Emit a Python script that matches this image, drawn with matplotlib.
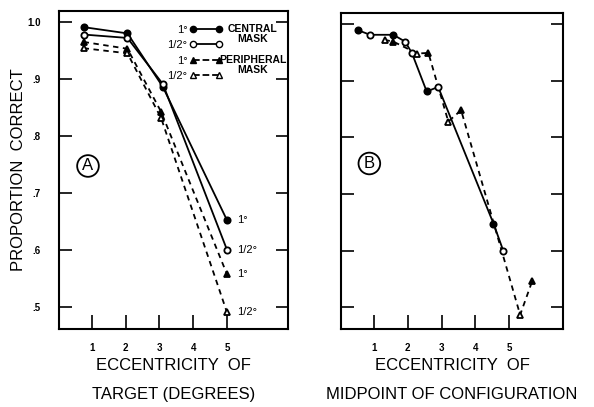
import numpy as np
import matplotlib.pyplot as plt
from matplotlib.lines import Line2D

plt.rcParams['font.family'] = ['Liberation Sans', 'DejaVu Sans']

# Panel A: proportion correct vs eccentricity of target
ecc_central = [0.75, 2.05, 3.1, 5.0]
ecc_periph = [0.75, 2.05, 3.05, 5.0]
central_1 = [0.991, 0.980, 0.886, 0.652]
central_half = [0.978, 0.972, 0.891, 0.600]
periph_1 = [0.965, 0.953, 0.842, 0.557]
periph_half = [0.954, 0.945, 0.831, 0.490]
end_labels = ['1°', '1/2°', '1°', '1/2°']

# Panel B: vs eccentricity of midpoint of configuration
b_central_x = [0.53, 0.88, 1.57, 1.92, 2.12, 2.56, 2.90, 4.54, 4.83]
b_central_y = [0.989, 0.981, 0.981, 0.969, 0.949, 0.881, 0.889, 0.648, 0.600]
b_central_filled = [True, False, True, False, False, True, False, True, False]
b_periph_x = [1.31, 1.57, 2.28, 2.61, 3.20, 3.58, 5.33, 5.69]
b_periph_y = [0.972, 0.969, 0.948, 0.949, 0.828, 0.848, 0.487, 0.547]
b_periph_filled = [False, True, False, True, False, True, False, True]

yticks = [0.5, 0.6, 0.7, 0.8, 0.9, 1.0]
ytick_labels = ['.5', '.6', '.7', '.8', '.9', '1.0']
xticks = [1, 2, 3, 4, 5]


def style_axes(ax, xlim, ylim, show_ylabels):
    ax.set_xlim(*xlim)
    ax.set_ylim(*ylim)
    ax.set_xticks(xticks)
    ax.set_xticklabels([str(t) for t in xticks], fontsize=7, fontweight='bold')
    ax.set_yticks(yticks)
    if show_ylabels:
        ax.set_yticklabels(ytick_labels, fontsize=7, fontweight='bold')
    else:
        ax.set_yticklabels([])
    ax.tick_params(axis='x', direction='in', length=10, width=1.2, pad=10)
    ax.tick_params(axis='y', direction='in', length=9, width=1.2, pad=13,
                   right=True)
    for sp in ax.spines.values():
        sp.set_linewidth(1.5)


def pts(ax, x, y, filled, marker, ms):
    for xi, yi, f in zip(x, y, filled):
        ax.plot(xi, yi, marker=marker, ms=ms, color='black',
                mfc='black' if f else 'white', mew=1.3, zorder=3)


fig = plt.figure(figsize=(5.94, 4.07), dpi=100)
axA = fig.add_axes([0.0993, 0.1916, 0.3855, 0.7813])
axB = fig.add_axes([0.5741, 0.1916, 0.3737, 0.7764])

# ---- panel A
kw = dict(color='black', lw=1.3, mew=1.3)
axA.plot(ecc_central, central_1, '-o', mfc='black', ms=4.5, **kw)
axA.plot(ecc_central, central_half, '-o', mfc='white', ms=4.5, **kw)
axA.plot(ecc_periph, periph_1, '--^', mfc='black', ms=5, dashes=(3, 2.5), **kw)
axA.plot(ecc_periph, periph_half, '--^', mfc='white', ms=5, dashes=(3, 2.5), **kw)

for yv, lab in zip([central_1[-1], central_half[-1], periph_1[-1], periph_half[-1]], end_labels):
    axA.text(5.3, yv, lab, fontsize=8, va='center', ha='left')

style_axes(axA, (0.02, 6.81), (0.4605, 1.0193), True)
axA.set_ylabel('PROPORTION  CORRECT', fontsize=12, labelpad=1)
axA.set_xlabel('ECCENTRICITY  OF\nTARGET (DEGREES)', fontsize=12,
               linespacing=2.1, labelpad=4)
axA.text(0.88, 0.747, 'A', fontsize=12, ha='center', va='center',
         bbox=dict(boxstyle='circle,pad=0.2', fc='none', ec='black', lw=1.3))

handles = [
    Line2D([], [], color='black', lw=1.3, marker='o', ms=4.5, mfc='black'),
    Line2D([], [], color='black', lw=1.3, marker='o', ms=4.5, mfc='white'),
    Line2D([], [], color='black', lw=1.3, ls='--', marker='^', ms=5, mfc='black'),
    Line2D([], [], color='black', lw=1.3, ls='--', marker='^', ms=5, mfc='white'),
]
leg = axA.legend(handles, end_labels, loc='upper left', bbox_to_anchor=(0.45, 0.975),
                 frameon=False, markerfirst=False, numpoints=2, handlelength=3.0,
                 handletextpad=0.15, borderpad=0, labelspacing=0.5, fontsize=8)
axA.text(0.735, 0.943, 'CENTRAL', transform=axA.transAxes, fontsize=7.5,
         fontweight='bold', va='center')
axA.text(0.78, 0.912, 'MASK', transform=axA.transAxes, fontsize=7.5,
         fontweight='bold', va='center')
axA.text(0.70, 0.846, 'PERIPHERAL', transform=axA.transAxes, fontsize=7.5,
         fontweight='bold', va='center')
axA.text(0.78, 0.814, 'MASK', transform=axA.transAxes, fontsize=7.5,
         fontweight='bold', va='center')

# ---- panel B
axB.plot(b_central_x, b_central_y, '-', color='black', lw=1.3)
axB.plot(b_periph_x, b_periph_y, '--', color='black', lw=1.3, dashes=(3, 2.5))
pts(axB, b_central_x, b_central_y, b_central_filled, 'o', 4.5)
pts(axB, b_periph_x, b_periph_y, b_periph_filled, '^', 5)

style_axes(axB, (0.02, 6.6), (0.462, 1.0194), False)
axB.set_xlabel('ECCENTRICITY  OF\nMIDPOINT OF CONFIGURATION', fontsize=12,
               linespacing=2.1, labelpad=4)
axB.text(0.86, 0.754, 'B', fontsize=12, ha='center', va='center',
         bbox=dict(boxstyle='circle,pad=0.2', fc='none', ec='black', lw=1.3))

fig.savefig('out.png', dpi=100)
